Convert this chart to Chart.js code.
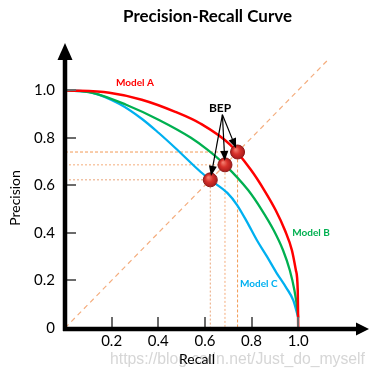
<!DOCTYPE html>
<html>
<head>
<meta charset="utf-8">
<script src="https://cdn.jsdelivr.net/npm/chart.js@4.4.1/dist/chart.umd.min.js"></script>
<style>
html,body{margin:0;padding:0;background:#fff;}
#wrap{width:375px;height:378px;position:relative;}
</style>
</head>
<body>
<div id="wrap"><canvas id="c" width="375" height="378"></canvas></div>
<script>
// ---- data ----
const titleText = 'Precision-Recall Curve';
const xAxisTitle = 'Recall';
const yAxisTitle = 'Precision';
const watermark = 'https://blog.csdn.net/Just_do_myself';
const xTickValues = [0.2, 0.4, 0.6, 0.8, 1.0];
const yTickValues = [0, 0.2, 0.4, 0.6, 0.8, 1.0];

const modelARecall    = [0, 0.19, 0.329, 0.473, 0.582, 0.709, 0.797, 0.854, 0.903, 0.943, 0.973, 0.990, 0.998, 1.0];
const modelAPrecision = [1.0, 0.989, 0.96, 0.909, 0.859, 0.77, 0.665, 0.58, 0.496, 0.411, 0.327, 0.243, 0.158, 0];
const modelBRecall    = [0, 0.118, 0.262, 0.401, 0.54, 0.612, 0.686, 0.785, 0.844, 0.895, 0.935, 0.964, 0.984, 0.997, 1.0];
const modelBPrecision = [1.0, 0.989, 0.939, 0.876, 0.8, 0.749, 0.686, 0.58, 0.496, 0.411, 0.327, 0.243, 0.158, 0.074, 0.044];
const modelCRecall    = [0, 0.118, 0.232, 0.329, 0.401, 0.473, 0.582, 0.624, 0.696, 0.738, 0.781, 0.823, 0.865, 0.907, 0.949, 0.979, 1.0];
const modelCPrecision = [1.0, 0.989, 0.943, 0.88, 0.821, 0.757, 0.656, 0.622, 0.568, 0.517, 0.445, 0.369, 0.302, 0.232, 0.169, 0.116, 0.044];

const bepValues = [0.74, 0.686, 0.623];       // Model A, B, C break-even points
const diagonalEnds = [0, 1.125];
const bepLabelPoint = {x: 0.665, y: 0.926};
const arrowApex = {x: 0.675, y: 0.897};
const modelLabels = [
  {text: 'Model A', x: 0.30, y: 1.032, color: '#ff0000'},
  {text: 'Model B', x: 1.055, y: 0.399, color: '#00b050'},
  {text: 'Model C', x: 0.831, y: 0.184, color: '#00b0f0'}
];

const zip = (xs, ys) => xs.map((x, i) => ({x, y: ys[i]}));

const FONT = 'Lato, "Open Sans", sans-serif';

const guideColors = ['#f29a55', '#f5ad7b', '#e9a57a'];
const guideDatasets = bepValues.map((b, i) => ({
  data: [{x: 0, y: b}, {x: b, y: b}, {x: b, y: 0}],
  showLine: true, borderColor: guideColors[i], borderWidth: 1,
  borderDash: i === 0 ? [3, 2] : [2, 2], pointRadius: 0, tension: 0, order: 5
}));

const overlay = {
  id: 'overlay',
  beforeDraw(chart) {
    const ctx = chart.ctx;
    ctx.save();
    ctx.fillStyle = 'rgba(200,200,200,0.75)';
    ctx.font = '17px "Liberation Sans", Arial, sans-serif';
    ctx.textBaseline = 'alphabetic';
    ctx.textAlign = 'left';
    ctx.fillText(watermark, 110, 364, 255);
    ctx.restore();
  },
  afterDatasetsDraw(chart) {
    const ctx = chart.ctx;
    const xs = chart.scales.x, ys = chart.scales.y;
    const ca = chart.chartArea;
    const x0 = xs.getPixelForValue(0), y0 = ys.getPixelForValue(0);
    ctx.save();
    // tick marks (inward)
    ctx.strokeStyle = '#6b6b6b';
    ctx.lineWidth = 2;
    xTickValues.forEach(v => {
      const px = Math.round(xs.getPixelForValue(v));
      ctx.beginPath(); ctx.moveTo(px, y0); ctx.lineTo(px, y0 - 11); ctx.stroke();
    });
    yTickValues.forEach(v => {
      if (v === 0) return;
      const py = Math.round(ys.getPixelForValue(v));
      ctx.beginPath(); ctx.moveTo(x0, py); ctx.lineTo(x0 + 11, py); ctx.stroke();
    });
    // axes
    ctx.strokeStyle = '#000'; ctx.fillStyle = '#000';
    ctx.lineWidth = 4.5;
    ctx.beginPath(); ctx.moveTo(x0, y0 + 3); ctx.lineTo(x0, ca.top + 14); ctx.stroke();
    ctx.beginPath(); ctx.moveTo(x0 - 2, y0 + 1); ctx.lineTo(ca.right - 10, y0 + 1); ctx.stroke();
    ctx.beginPath();
    ctx.moveTo(x0, ca.top - 2); ctx.lineTo(x0 - 7.5, ca.top + 15); ctx.lineTo(x0 + 7.5, ca.top + 15); ctx.closePath(); ctx.fill();
    ctx.beginPath();
    ctx.moveTo(ca.right + 2, y0 + 1); ctx.lineTo(ca.right - 11, y0 - 5.5); ctx.lineTo(ca.right - 11, y0 + 7.5); ctx.closePath(); ctx.fill();

    // arrows from BEP label to the points
    const ax = xs.getPixelForValue(arrowApex.x), ay = ys.getPixelForValue(arrowApex.y);
    ctx.lineWidth = 1.2;
    bepValues.forEach(b => {
      const tx = xs.getPixelForValue(b), ty = ys.getPixelForValue(b);
      const dx = tx - ax, dy = ty - ay, len = Math.hypot(dx, dy);
      const ux = dx / len, uy = dy / len;
      const ex = tx - ux * 4, ey = ty - uy * 4;
      ctx.beginPath(); ctx.moveTo(ax, ay); ctx.lineTo(ex - ux * 8, ey - uy * 8); ctx.stroke();
      ctx.beginPath();
      ctx.moveTo(ex, ey);
      ctx.lineTo(ex - ux * 10 - uy * 4, ey - uy * 10 + ux * 4);
      ctx.lineTo(ex - ux * 10 + uy * 4, ey - uy * 10 - ux * 4);
      ctx.closePath(); ctx.fill();
    });

    // text labels
    ctx.textAlign = 'center'; ctx.textBaseline = 'middle';
    ctx.font = 'bold 12px ' + FONT;
    ctx.fillStyle = '#000';
    ctx.fillText('BEP', xs.getPixelForValue(bepLabelPoint.x), ys.getPixelForValue(bepLabelPoint.y));
    ctx.font = 'bold 10px ' + FONT;
    modelLabels.forEach(l => {
      ctx.fillStyle = l.color;
      ctx.fillText(l.text, xs.getPixelForValue(l.x), ys.getPixelForValue(l.y));
    });

    // titles
    ctx.fillStyle = '#000';
    ctx.font = 'bold 17px ' + FONT;
    const tw = ctx.measureText(titleText).width;
    const fs = 17 * 169 / tw;
    ctx.font = 'bold ' + fs.toFixed(2) + 'px ' + FONT;
    ctx.fillText(titleText, 207.5, 17);
    ctx.font = '14px ' + FONT;
    ctx.fillText(xAxisTitle, 197, 359);
    ctx.save();
    ctx.translate(15, 198);
    ctx.rotate(-Math.PI / 2);
    ctx.fillText(yAxisTitle, 0, 0);
    ctx.restore();
    ctx.restore();
  }
};

function dotFill(context) {
  const chart = context.chart;
  if (!chart.scales || !chart.scales.x || !context.parsed) return '#d33a31';
  const px = chart.scales.x.getPixelForValue(context.parsed.x);
  const py = chart.scales.y.getPixelForValue(context.parsed.y);
  if (!isFinite(px) || !isFinite(py)) return '#d33a31';
  const g = chart.ctx.createRadialGradient(px - 2, py - 2.5, 0.5, px, py, 7.5);
  g.addColorStop(0, '#f27a6c');
  g.addColorStop(0.45, '#d8322b');
  g.addColorStop(1, '#a3191a');
  return g;
}

const curve = {showLine: true, pointRadius: 0, cubicInterpolationMode: 'monotone'};

new Chart(document.getElementById('c'), {
  type: 'scatter',
  data: {
    datasets: [
      {data: zip(diagonalEnds, diagonalEnds), showLine: true, borderColor: '#f4ad7e', borderWidth: 1.2,
       borderDash: [5, 4], pointRadius: 0, order: 6},
      ...guideDatasets,
      {label: 'Model C', data: zip(modelCRecall, modelCPrecision), ...curve, borderColor: '#00b0f0',
       borderWidth: 2.3, order: 3},
      {label: 'Model B', data: zip(modelBRecall, modelBPrecision), ...curve, borderColor: '#00b050',
       borderWidth: 2.3, order: 2},
      {label: 'Model A', data: zip(modelARecall, modelAPrecision), ...curve, borderColor: '#ff0000',
       borderWidth: 2.5, order: 1},
      {label: 'BEP', data: zip(bepValues, bepValues), showLine: false, pointRadius: 7, pointHoverRadius: 7,
       pointBackgroundColor: dotFill, pointBorderColor: '#8e1a1a', pointBorderWidth: 1, order: 0}
    ]
  },
  options: {
    responsive: false,
    animation: false,
    events: [],
    layout: {padding: {top: 45, right: 3, left: 0, bottom: 0}},
    plugins: {legend: {display: false}, title: {display: false}, tooltip: {enabled: false}},
    scales: {
      x: {
        type: 'linear', min: 0, max: 1.295,
        grid: {display: false, drawTicks: false}, border: {display: false},
        afterBuildTicks: s => { s.ticks = xTickValues.map(v => ({value: v})); },
        afterFit: s => { s.height = 50; },
        ticks: {padding: 4, color: '#000', font: {family: FONT, size: 15}, maxRotation: 0,
                callback: v => Number(v).toFixed(1)}
      },
      y: {
        type: 'linear', min: 0, max: 1.19,
        grid: {display: false, drawTicks: false}, border: {display: false},
        afterBuildTicks: s => { s.ticks = yTickValues.map(v => ({value: v})); },
        afterFit: s => { s.width = 65; },
        ticks: {padding: 10, color: '#000', font: {family: FONT, size: 15},
                callback: v => (v === 0 ? '0' : Number(v).toFixed(1))}
      }
    }
  },
  plugins: [overlay]
});
</script>
</body>
</html>
